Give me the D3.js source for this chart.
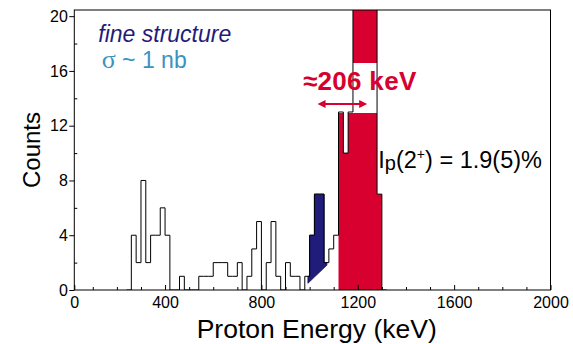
<!DOCTYPE html>
<html><head><meta charset="utf-8">
<script src="https://cdn.jsdelivr.net/npm/d3@7"></script>
<style>
html,body{margin:0;padding:0;background:#fff;}
svg{display:block;font-family:"Liberation Sans",Arial,Helvetica,sans-serif;}
</style>
</head><body>
<svg id="chart" width="573" height="344"></svg>
<script>
// ---------------- data ----------------
const binWidthKeV = 20;
const binLowKeV = [240,260,280,300,320,340,360,380,400,420,440,460,480,500,520,540,560,580,600,620,
  640,660,680,700,720,740,760,780,800,820,840,860,880,900,920,940,960,980,1000,1020,
  1040,1060,1080,1100,1120,1140,1160,1180,1200,1220,1240,1260,1280,1300];
const counts = [0,4,2,8,2,4,4,6,4,0,0,1,0,0,0,1,1,1,2,2,
  2,1,1,2,0,1,3,5,0,2,5,1,0,2,1,1,0,1,4,7,
  7,2,3,4,13,10,13,31,31,31,31,31,7,0];
const peakRangeKeV = [1120, 1300];        // red (2+ peak) region
const fineRangeKeV = [993, 1072];         // blue fine-structure region
const fineBackground = [0.49, 1.82];      // background counts at the ends of fine range
const fwhmRangeKeV = [1033, 1239];        // ≈206 keV arrow
const xTicks = [0,400,800,1200,1600,2000];
const xMinorTicks = [100,200,300,500,600,700,900,1000,1100,1300,1400,1500,1700,1800,1900];
const yTicks = [0,4,8,12,16,20];
const yMinorTicks = [2,6,10,14,18];
const xTitle = "Proton Energy (keV)";
const yTitle = "Counts";

// ---------------- layout ----------------
const frame = {left:74.3, right:550.5, top:10, bottom:290};
const x = d3.scaleLinear().domain([0,2000]).range([68.7,550.5]);
const y = d3.scaleLinear().domain([0,20.45]).range([frame.bottom, frame.top]);
const RED = "#d7002f", NAVY = "#1f1c7a", TEAL = "#3a93bf";

const svg = d3.select("#chart");
svg.append("defs").append("clipPath").attr("id","plotclip")
  .append("rect").attr("x",frame.left).attr("y",frame.top)
  .attr("width",frame.right-frame.left).attr("height",frame.bottom-frame.top);

const bins = binLowKeV.map((lo,i)=>({lo, hi:lo+binWidthKeV, c:counts[i]}));
function stepPts(a,b){
  const pts=[];
  bins.forEach(bn=>{
    const lo=Math.max(bn.lo,a), hi=Math.min(bn.hi,b);
    if(hi>lo) pts.push([lo,bn.c],[hi,bn.c]);
  });
  return pts;
}
const bgAt = k => fineBackground[0] + (k-fineRangeKeV[0])/(fineRangeKeV[1]-fineRangeKeV[0])*(fineBackground[1]-fineBackground[0]);

const plot = svg.append("g").attr("clip-path","url(#plotclip)");

// red peak fill
plot.append("path")
  .datum(stepPts(peakRangeKeV[0], peakRangeKeV[1]))
  .attr("fill",RED)
  .attr("d", d3.area().x(d=>x(d[0])).y0(y(0)).y1(d=>y(d[1])));

// blue fine-structure fill (above background)
plot.append("path")
  .datum(stepPts(fineRangeKeV[0], fineRangeKeV[1]))
  .attr("fill",NAVY).attr("stroke","#141250").attr("stroke-width",0.8)
  .attr("d", d3.area().x(d=>x(d[0])).y0(d=>y(bgAt(d[0]))).y1(d=>y(d[1])));

// white label box
plot.append("rect").attr("x",300).attr("y",63).attr("width",125).attr("height",50).attr("fill","#fff");

// histogram outline
const all = [[bins[0].lo,0], ...stepPts(bins[0].lo, bins[bins.length-1].hi), [bins[bins.length-1].hi,0]];
plot.append("path").datum(all)
  .attr("fill","none").attr("stroke","#000").attr("stroke-width",1)
  .attr("d", d3.line().x(d=>x(d[0])).y(d=>y(d[1])));

// frame
svg.append("rect").attr("x",frame.left).attr("y",frame.top)
  .attr("width",frame.right-frame.left).attr("height",frame.bottom-frame.top)
  .attr("fill","none").attr("stroke","#000").attr("stroke-width",1);

// x axis
const gx = svg.append("g").attr("transform",`translate(0,${frame.bottom})`)
  .call(d3.axisBottom(x).tickValues(xTicks).tickSize(-5).tickPadding(7).tickFormat(d3.format("d")));
gx.select(".domain").remove();
gx.selectAll(".tick").filter(d=>d===0).attr("transform",`translate(${frame.left+0.5},0)`);
const gxm = svg.append("g").attr("transform",`translate(0,${frame.bottom})`)
  .call(d3.axisBottom(x).tickValues(xMinorTicks).tickSize(-3).tickFormat(""));
gxm.select(".domain").remove();

// y axis
const gy = svg.append("g").attr("transform",`translate(${frame.left},0)`)
  .call(d3.axisLeft(y).tickValues(yTicks).tickSize(5).tickPadding(1.5));
gy.select(".domain").remove();
const gym = svg.append("g").attr("transform",`translate(${frame.left},0)`)
  .call(d3.axisLeft(y).tickValues(yMinorTicks).tickSize(-3).tickFormat(""));
gym.select(".domain").remove();
svg.selectAll(".tick text").attr("font-size",16).attr("font-family",'"Liberation Sans",Arial,sans-serif').attr("fill","#000");
svg.selectAll(".tick line").attr("stroke","#000");

// titles
svg.append("text").attr("x",316.7).attr("y",338).attr("text-anchor","middle")
  .attr("font-size",26.5).text(xTitle);
svg.append("text").attr("transform","translate(40,150) rotate(-90)").attr("text-anchor","middle")
  .attr("font-size",24).text(yTitle);

// annotations
svg.append("text").attr("x",98.3).attr("y",42.3).attr("font-size",23).attr("font-style","italic")
  .attr("fill",NAVY).text("fine structure");
const sig = svg.append("text").attr("x",101.7).attr("y",68).attr("font-size",23).attr("fill",TEAL);
sig.append("tspan").attr("font-family",'"Liberation Serif","Times New Roman",serif').attr("font-size",26).text("σ");
sig.append("tspan").text(" ~ 1 nb");

svg.append("text").attr("x",303).attr("y",90).attr("font-size",26).attr("font-weight","bold")
  .attr("fill",RED).attr("letter-spacing",0.3).text("≈206 keV");

// double arrow
const ay = 104;
const ax0 = x(fwhmRangeKeV[0]), ax1 = x(fwhmRangeKeV[1]);
svg.append("line").attr("x1",ax0+4).attr("x2",ax1-4).attr("y1",ay).attr("y2",ay)
  .attr("stroke",RED).attr("stroke-width",2);
svg.append("path").attr("fill",RED)
  .attr("d",`M${ax0},${ay} L${ax0+8},${ay-4} L${ax0+8},${ay+4} Z M${ax1},${ay} L${ax1-8},${ay-4} L${ax1-8},${ay+4} Z`);

const ip = svg.append("text").attr("x",378.3).attr("y",168.3).attr("font-size",23.5).attr("fill","#000");
ip.append("tspan").text("I");
ip.append("tspan").attr("font-size",20).attr("dy",2).text("p");
ip.append("tspan").attr("dy",-2).text("(2");
ip.append("tspan").attr("font-size",14).attr("dy",-9).text("+");
ip.append("tspan").attr("dy",9).text(") = 1.9(5)%");
</script>
</body></html>
